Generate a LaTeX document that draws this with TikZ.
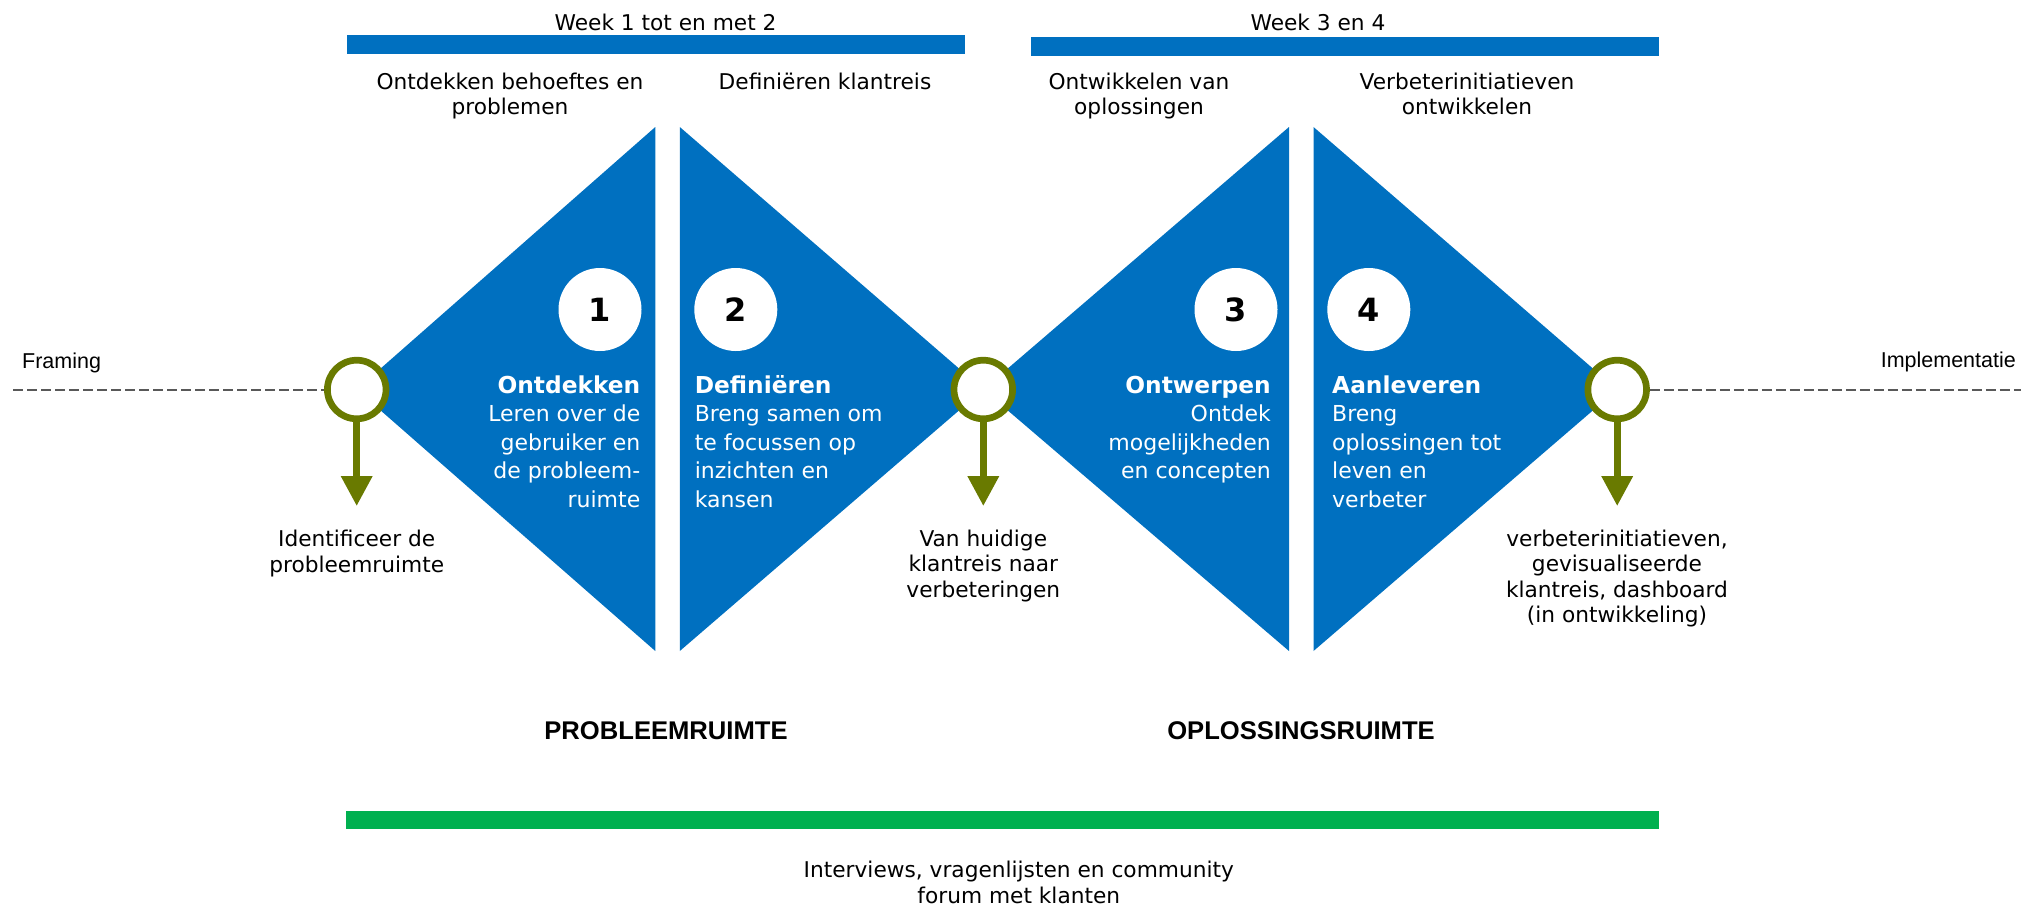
\documentclass[tikz,border=0pt]{standalone}
\usepackage{fontspec}
\setmainfont{DejaVu Sans}
\newfontfamily\arialf{Liberation Sans}
\usetikzlibrary{arrows.meta}
\definecolor{myblue}{HTML}{0070C0}
\definecolor{mygreen}{HTML}{00B050}
\definecolor{myolive}{HTML}{697A00}
\definecolor{dashgray}{HTML}{595959}
\newcommand{\bt}[1]{{\bfseries\fontsize{23.3}{28.5}\selectfont #1}}
\tikzset{
 tri/.style={fill=myblue},
 topbar/.style={fill=myblue},
 greenbar/.style={fill=mygreen},
 numc/.style={circle,fill=white,minimum size=83pt,inner sep=0pt,font=\bfseries\fontsize{32}{32}\selectfont},
 ring/.style={circle,draw=myolive,line width=6.7pt,fill=white,minimum size=58.6pt,inner sep=0pt},
 down/.style={draw=myolive,line width=6.7pt,-{Triangle[width=30pt,length=30pt]}},
 lbl/.style={font=\fontsize{21.7}{25.5}\selectfont,align=center,inner sep=0pt},
 body/.style={text=white,font=\fontsize{22}{28.5}\selectfont,inner sep=0pt},
 dashl/.style={draw=dashgray,line width=2pt,dash pattern=on 10pt off 4pt},
 head/.style={font=\arialf\bfseries\fontsize{25.6}{30}\selectfont,inner sep=0pt},
 side/.style={font=\arialf\fontsize{21.5}{26}\selectfont,inner sep=0pt},
}
\begin{document}
\begin{tikzpicture}[x=1pt,y=-1pt]
\useasboundingbox (0,0) rectangle (2021,906);
% top bars
\fill[topbar] (347,35) rectangle (964.6,54);
\fill[topbar] (1031,37) rectangle (1659,56);
\node[lbl,anchor=base] (w12) at (665.6,30) {Week 1 tot en met 2};
\node[lbl,anchor=base] (w34) at (1318,30) {Week 3 en 4};
% top labels (anchor = baseline of last line)
\node[lbl,anchor=base] (h1) at (510,114.8) {Ontdekken behoeftes en\\problemen};
\node[lbl,anchor=base] (h2) at (825,89.3) {Definiëren klantreis};
\node[lbl,anchor=base] (h3) at (1139,114.8) {Ontwikkelen van\\oplossingen};
\node[lbl,anchor=base] (h4) at (1467,114.8) {Verbeterinitiatieven\\ontwikkelen};
% triangles
\fill[tri] (655.3,127) -- (655.3,651) -- (356.7,389.5) -- cycle;
\fill[tri] (679.8,127) -- (679.8,651) -- (983.3,389.5) -- cycle;
\fill[tri] (1289,127) -- (1289,651) -- (983.3,389.5) -- cycle;
\fill[tri] (1313.5,127) -- (1313.5,651) -- (1617.2,389.5) -- cycle;
% number circles
\node[numc] (n1) at (600,309.5) {1};
\node[numc] (n2) at (735.8,309.5) {2};
\node[numc] (n3) at (1236,309.5) {3};
\node[numc] (n4) at (1368.8,309.5) {4};
% triangle texts (anchor = baseline of last line)
\node[body,anchor=base east,align=right] (t1) at (640.5,507) {\bt{Ontdekken}\\Leren over de\\gebruiker en\\de probleem-\\ruimte};
\node[body,anchor=base west,align=left] (t2) at (694.6,507) {\bt{Definiëren}\\Breng samen om\\te focussen op\\inzichten en\\kansen};
\node[body,anchor=base east,align=right] (t3) at (1271,478.5) {\bt{Ontwerpen}\\Ontdek\\mogelijkheden\\en concepten};
\node[body,anchor=base west,align=left] (t4) at (1332,507) {\bt{Aanleveren}\\Breng\\oplossingen tot\\leven en\\verbeter};
% dashed lines and rings
\coordinate (dl) at (13,389.5);
\coordinate (dr) at (2021,389.5);
\node[ring] (r1) at (356.7,389.5) {};
\node[ring] (r2) at (983.3,389.5) {};
\node[ring] (r3) at (1617.2,389.5) {};
\draw[dashl] (dl) -- (r1.west);
\draw[dashl] (r3.east) -- (dr);
\coordinate (a1) at (356.7,506);
\coordinate (a2) at (983.3,506);
\coordinate (a3) at (1617.2,506);
\draw[down] (r1.south) -- (a1);
\draw[down] (r2.south) -- (a2);
\draw[down] (r3.south) -- (a3);
% side labels
\node[side,anchor=base west] (fr) at (22,368) {Framing};
\node[side,anchor=base east] (im) at (2016,367) {Implementatie};
% bottom labels
\node[lbl,anchor=base] (b1) at (356.7,572.2) {Identificeer de\\probleemruimte};
\node[lbl,anchor=base] (b2) at (983.3,597) {Van huidige\\klantreis naar\\verbeteringen};
\node[lbl,anchor=base] (b3) at (1617,622.5) {verbeterinitiatieven,\\gevisualiseerde\\klantreis, dashboard\\(in ontwikkeling)};
% headings
\node[head,anchor=base] (p1) at (666,739) {PROBLEEMRUIMTE};
\node[head,anchor=base] (p2) at (1301,739) {OPLOSSINGSRUIMTE};
% green bar
\fill[greenbar] (346,811) rectangle (1659,829.3);
\node[lbl,anchor=base] (iv) at (1018.8,903) {Interviews, vragenlijsten en community\\forum met klanten};
\end{tikzpicture}
\end{document}
